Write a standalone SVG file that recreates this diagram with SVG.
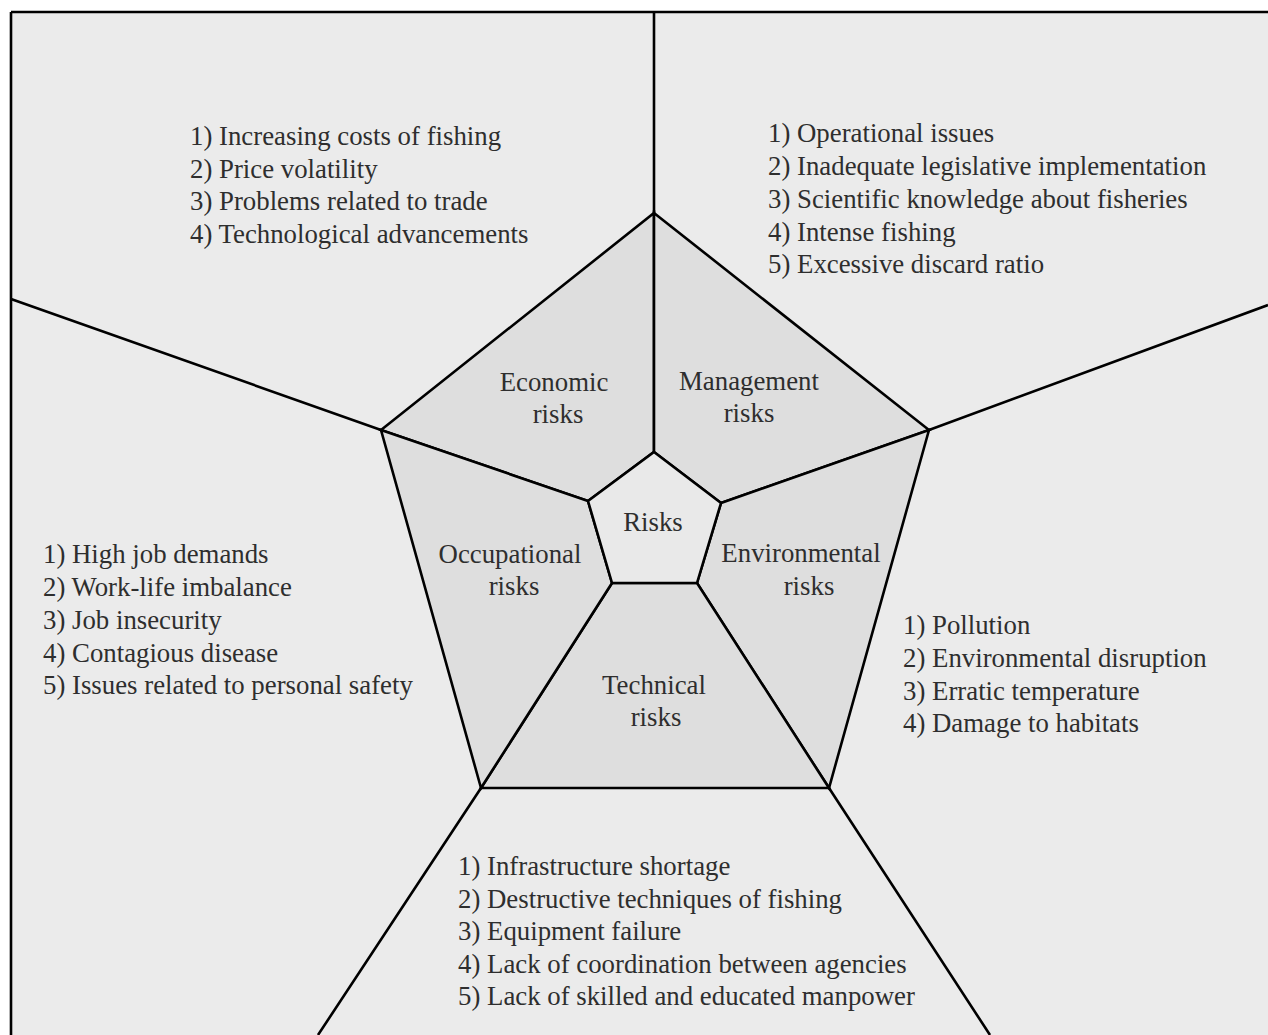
<svg xmlns="http://www.w3.org/2000/svg" width="1268" height="1035" viewBox="0 0 1268 1035">
<style>
.ln{stroke:#000;stroke-width:2.6;fill:none;stroke-linejoin:miter}
.seg{fill:#dedede;stroke:#000;stroke-width:2.6;stroke-linejoin:miter}
.ctr{fill:#e9e9e9;stroke:#000;stroke-width:2.6}
.t{font-family:'Liberation Serif','Times New Roman',Tinos,'DejaVu Serif',serif;font-size:26.8px;fill:#2e2e2e}
.c{text-anchor:middle}
</style>
<rect x="0" y="0" width="1268" height="1035" fill="#ffffff"/>
<rect x="11" y="12" width="1257" height="1023" fill="#ebebeb"/>
<g id="connectors">
<path class="ln" d="M11,12 H1268 M11,12 V1035"/>
<path class="ln" d="M654,12 V452"/>
<path class="ln" d="M721,503 L929,430 L1268,305"/>
<path class="ln" d="M697,583 L829,788 L990,1035"/>
<path class="ln" d="M612,583 L481,788 L318,1035"/>
<path class="ln" d="M588,501 L381,430 L11,299"/>
</g>
<g id="economic">
<polygon class="seg" points="654,213 654,452 588,501 381,430"/>
<text class="t c" x="554" y="391">Economic</text>
<text class="t c" x="558" y="423">risks</text>
</g>
<g id="management">
<polygon class="seg" points="654,213 929,430 721,503 654,452"/>
<text class="t c" x="749" y="390">Management</text>
<text class="t c" x="749" y="422">risks</text>
</g>
<g id="environmental">
<polygon class="seg" points="929,430 829,788 697,583 721,503"/>
<text class="t c" x="801" y="562">Environmental</text>
<text class="t c" x="809" y="595">risks</text>
</g>
<g id="technical">
<polygon class="seg" points="829,788 481,788 612,583 697,583"/>
<text class="t c" x="654" y="694">Technical</text>
<text class="t c" x="656" y="726">risks</text>
</g>
<g id="occupational">
<polygon class="seg" points="481,788 381,430 588,501 612,583"/>
<text class="t c" x="510" y="563">Occupational</text>
<text class="t c" x="514" y="595">risks</text>
</g>
<g id="risks">
<polygon class="ctr" points="654,452 721,503 697,583 612,583 588,501"/>
<text class="t c" x="653" y="531">Risks</text>
</g>
<g id="economic-list">
<text class="t" x="190" y="145">1) Increasing costs of fishing</text>
<text class="t" x="190" y="178">2) Price volatility</text>
<text class="t" x="190" y="210">3) Problems related to trade</text>
<text class="t" x="190" y="243">4) Technological advancements</text>
</g>
<g id="management-list">
<text class="t" x="768" y="142">1) Operational issues</text>
<text class="t" x="768" y="175">2) Inadequate legislative implementation</text>
<text class="t" x="768" y="208">3) Scientific knowledge about fisheries</text>
<text class="t" x="768" y="241">4) Intense fishing</text>
<text class="t" x="768" y="273">5) Excessive discard ratio</text>
</g>
<g id="occupational-list">
<text class="t" x="43" y="563">1) High job demands</text>
<text class="t" x="43" y="596">2) Work-life imbalance</text>
<text class="t" x="43" y="629">3) Job insecurity</text>
<text class="t" x="43" y="662">4) Contagious disease</text>
<text class="t" x="43" y="694">5) Issues related to personal safety</text>
</g>
<g id="environmental-list">
<text class="t" x="903" y="634">1) Pollution</text>
<text class="t" x="903" y="667">2) Environmental disruption</text>
<text class="t" x="903" y="700">3) Erratic temperature</text>
<text class="t" x="903" y="732">4) Damage to habitats</text>
</g>
<g id="technical-list">
<text class="t" x="458" y="875">1) Infrastructure shortage</text>
<text class="t" x="458" y="908">2) Destructive techniques of fishing</text>
<text class="t" x="458" y="940">3) Equipment failure</text>
<text class="t" x="458" y="973">4) Lack of coordination between agencies</text>
<text class="t" x="458" y="1005">5) Lack of skilled and educated manpower</text>
</g>
</svg>
